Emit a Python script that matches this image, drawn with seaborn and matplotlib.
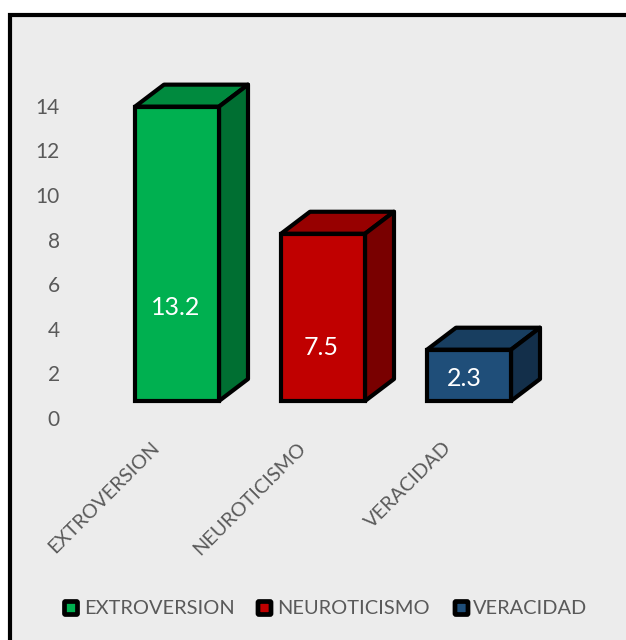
import matplotlib
matplotlib.use("Agg")
import matplotlib.pyplot as plt
from matplotlib.patches import Polygon, Rectangle, FancyBboxPatch
from matplotlib.transforms import ScaledTranslation
import pandas as pd
import seaborn as sns

categories = ["EXTROVERSION", "NEUROTICISMO", "VERACIDAD"]
values = [13.2, 7.5, 2.3]
front_colors = ["#00B050", "#C00000", "#1F4E79"]
top_colors = ["#008A3E", "#970000", "#183E60"]
side_colors = ["#006F32", "#790000", "#132F4A"]
y_ticks = [0, 2, 4, 6, 8, 10, 12, 14]
label_y = [4.2, 2.4, 1.03]
label_dx = [-0.01, -0.01, -0.03]

W, H = 626, 640
DPI = 100
GRAY = "#595959"
sns.set_theme(style="white")
plt.rcParams["font.family"] = ["Lato", "DejaVu Sans"]

fig = plt.figure(figsize=(W / DPI, H / DPI), dpi=DPI, facecolor="white")

# Chart frame: runs off the right and bottom edges of the figure
fig.add_artist(Rectangle((10 / W, -0.02), 1.02, (H - 15) / H + 0.02,
                         transform=fig.transFigure, facecolor="#ECECEC",
                         edgecolor="black", linewidth=3, zorder=-1))

# Axes box in pixels, scaled so one unit is 22.3 px and categories sit 146 px apart
left, right, base, top = 60.0, 600.0, 401.0, 60.0
ax = fig.add_axes([left / W, 1 - base / H, (right - left) / W, (base - top) / H])
ax.patch.set_alpha(0)
PX_Y = 22.3
PX_X = 146.0
df = pd.DataFrame({"factor": categories, "value": values})
sns.barplot(data=df, x="factor", y="value", hue="factor", palette=front_colors,
            order=categories, hue_order=categories, width=84 / PX_X, legend=False,
            dodge=False, saturation=1, edgecolor="black", linewidth=3, ax=ax, zorder=3)
ax.set_xlim((left - 177) / PX_X, (right - 177) / PX_X)
ax.set_ylim(0, (base - top) / PX_Y)

# Oblique top and side faces behind each front face
dx, dy = 29 / PX_X, 22 / PX_Y
half = 42 / PX_X
for i, v in enumerate(values):
    x0, x1 = i - half, i + half
    ax.add_patch(Polygon([(x0, v), (x1, v), (x1 + dx, v + dy), (x0 + dx, v + dy)],
                         closed=True, facecolor=top_colors[i], edgecolor="black",
                         linewidth=3, joinstyle="round", zorder=2, clip_on=False))
    ax.add_patch(Polygon([(x1, 0), (x1 + dx, dy), (x1 + dx, v + dy), (x1, v)],
                         closed=True, facecolor=side_colors[i], edgecolor="black",
                         linewidth=3, joinstyle="round", zorder=2, clip_on=False))

for patch in ax.patches:
    patch.set_clip_on(False)
for s in ax.spines.values():
    s.set_visible(False)
ax.set_xlabel("")
ax.set_ylabel("")
ax.tick_params(left=False, bottom=False, length=0, pad=0)

# Value labels inside the front faces
for i, v in enumerate(values):
    ax.text(i + label_dx[i], label_y[i], f"{v}", ha="center", va="center",
            color="white", fontsize=18, zorder=5)

# Tick labels sit 17 px below the level they name
ax.set_yticks(y_ticks)
ax.set_yticklabels([str(t) for t in y_ticks], color=GRAY, fontsize=15)
shift = ScaledTranslation(0, -17 / DPI, fig.dpi_scale_trans)
for lab in ax.get_yticklabels():
    lab.set_transform(lab.get_transform() + shift)

ax.set_xticks(range(len(categories)))
ax.set_xticklabels([])
for i, name in enumerate(categories):
    ax.annotate(name, (i, 0), xytext=(-20 / DPI * 72, -44 / DPI * 72),
                textcoords="offset points", rotation=45, rotation_mode="anchor",
                ha="right", va="center", color=GRAY, fontsize=14.3)

# Legend drawn across the foot of the frame
legend_x = [64.5, 258, 455]
legend_text_x = [84, 277, 473]
legend_y = 608
for name, col, sx, tx in zip(categories, front_colors, legend_x, legend_text_x):
    fig.add_artist(FancyBboxPatch((sx, H - legend_y - 6.5), 13, 13,
                                  boxstyle="round,pad=0,rounding_size=1",
                                  transform=None, facecolor=col, edgecolor="black",
                                  linewidth=3.4))
    fig.text(tx / W, 1 - legend_y / H, name, color=GRAY, fontsize=14.4,
             ha="left", va="center")

fig.savefig("out.png", dpi=DPI)
